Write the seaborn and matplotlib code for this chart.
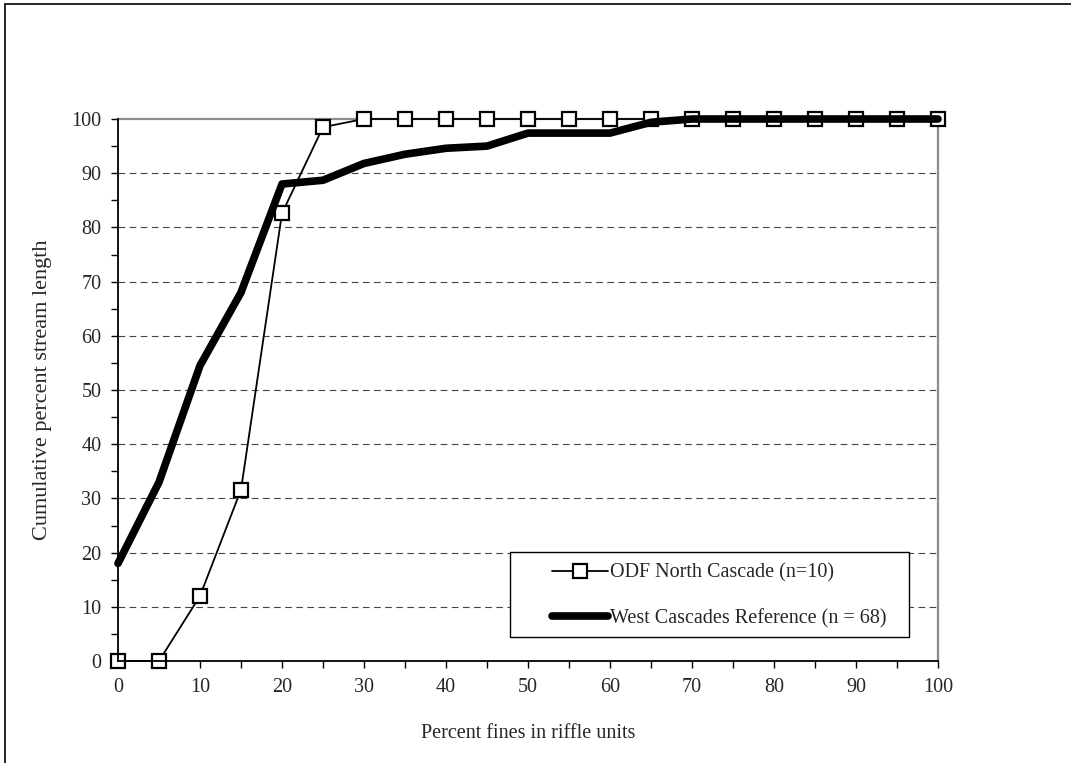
import numpy as np
import pandas as pd
import matplotlib
matplotlib.use("Agg")
import matplotlib.pyplot as plt
import seaborn as sns
from matplotlib.patches import Rectangle
from matplotlib.ticker import MultipleLocator

sns.set_style("white")
plt.rcParams['font.family'] = ['Liberation Serif', 'DejaVu Serif']

# data
fines = [0, 5, 10, 15, 20, 25, 30, 35, 40, 45, 50, 55, 60, 65, 70, 75, 80, 85, 90, 95, 100]
odf_north = [0, 0, 12, 31.6, 82.6, 98.5, 100, 100, 100, 100, 100, 100, 100, 100, 100, 100, 100, 100, 100, 100, 100]
west_ref = [18, 33, 54.5, 68, 88, 88.7, 91.8, 93.5, 94.6, 95, 97.4, 97.4, 97.4, 99.4, 100, 100, 100, 100, 100, 100, 100]
odf_label = "ODF North Cascade (n=10)"
west_label = "West Cascades Reference (n = 68)"

df = pd.DataFrame({'fines': fines, 'odf': odf_north, 'west': west_ref})

W, H = 1071, 763
fig = plt.figure(figsize=(W / 100, H / 100), dpi=100)
ax = fig.add_axes([118 / W, 1 - 661 / H, 820 / W, 542 / H])

# outer chart border (runs off the right and bottom edges)
fig.patches.append(Rectangle((5 / W, -0.05), 1.2, 1 - 4 / H + 0.05,
                             transform=fig.transFigure, fill=False,
                             edgecolor='black', linewidth=1.2))

# dashed gridlines
for yv in range(10, 100, 10):
    ax.axhline(yv, color='#444444', linewidth=0.8, linestyle=(0, (6, 4)), zorder=1)

sns.lineplot(data=df, x='fines', y='odf', ax=ax, color='black', linewidth=1.3,
             marker='s', markersize=10, markerfacecolor='white',
             markeredgecolor='black', markeredgewidth=1.6, label=odf_label,
             clip_on=False, zorder=3)
sns.lineplot(data=df, x='fines', y='west', ax=ax, color='black', linewidth=5.5,
             label=west_label, clip_on=False, zorder=4)

ax.set_xlim(0, 100)
ax.set_ylim(0, 100)
ax.xaxis.set_major_locator(MultipleLocator(10))
ax.xaxis.set_minor_locator(MultipleLocator(5))
ax.yaxis.set_major_locator(MultipleLocator(10))
ax.yaxis.set_minor_locator(MultipleLocator(5))
ax.tick_params(which='both', direction='out', length=5, width=1, color='black',
               bottom=True, left=True, top=False, right=False)
ax.tick_params(which='major', labelsize=14.5, pad=7)

for side in ['left', 'bottom']:
    ax.spines[side].set_color('black')
    ax.spines[side].set_linewidth(1.3)
    ax.spines[side].set_zorder(5)
for side in ['top', 'right']:
    ax.spines[side].set_color('#8c8c8c')
    ax.spines[side].set_linewidth(1.6)
    ax.spines[side].set_zorder(2)

ax.set_xlabel('Percent fines in riffle units', fontsize=14.5, labelpad=20)
ax.set_ylabel('Cumulative percent stream length', fontsize=16, labelpad=14)

# legend box drawn separately so its size matches the original
box = Rectangle(((510 - 118) / 820, (661 - 637) / 542), 399 / 820, 85 / 542,
                transform=ax.transAxes, facecolor='white', edgecolor='black',
                linewidth=1, zorder=5)
ax.add_patch(box)
leg = ax.legend(loc='center left', bbox_to_anchor=((552 - 118) / 820, (661 - 596) / 542),
                frameon=False, fontsize=14.5, handlelength=2.8, handletextpad=0.1,
                labelspacing=1.3, borderpad=0, borderaxespad=0)
leg.set_zorder(6)

fig.savefig('out.png', dpi=100)
